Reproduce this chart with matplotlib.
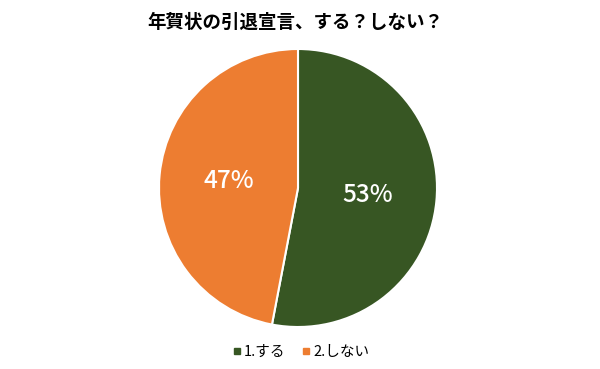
import matplotlib
matplotlib.use("Agg")
import matplotlib.pyplot as plt
from matplotlib.lines import Line2D

plt.rcParams['font.family'] = ['Noto Sans CJK JP', 'DejaVu Sans']

title = "年賀状の引退宣言、する？しない？"
categories = ["1.する", "2.しない"]
values = [53, 47]
colors = ["#375623", "#ED7D31"]

fig = plt.figure(figsize=(6.0, 3.69), dpi=100)
fig.patch.set_facecolor("white")

cx, cy, r = 298 / 600, 1 - 188 / 369, 139
ax = fig.add_axes([cx - r / 600, cy - r / 369, 2 * r / 600, 2 * r / 369])
wedges, texts, autotexts = ax.pie(
    values, colors=colors, startangle=90, counterclock=False,
    autopct=lambda p: f"{p:.0f}%", pctdistance=0.5,
    wedgeprops=dict(edgecolor="white", linewidth=1.5),
    textprops=dict(color="white", fontsize=17.5, fontweight="medium"),
)
ax.set_xlim(-1, 1)
ax.set_ylim(-1, 1)
ax.set_aspect("equal")
ax.axis("off")

fig.text(147 / 600, 1 - 22 / 369, title, fontsize=13.3, fontweight="bold",
         ha="left", va="center", color="#000000")

handles = [Line2D([0], [0], marker="s", linestyle="none", markersize=5,
                  markerfacecolor=c, markeredgecolor=c) for c in colors]
fig.legend(handles, categories, loc="center", bbox_to_anchor=(300 / 600, 1 - 352 / 369),
           ncol=2, frameon=False, fontsize=10.5, handletextpad=0.1, columnspacing=1.0,
           handlelength=0.8)

fig.savefig("out.png", dpi=100, facecolor="white")
